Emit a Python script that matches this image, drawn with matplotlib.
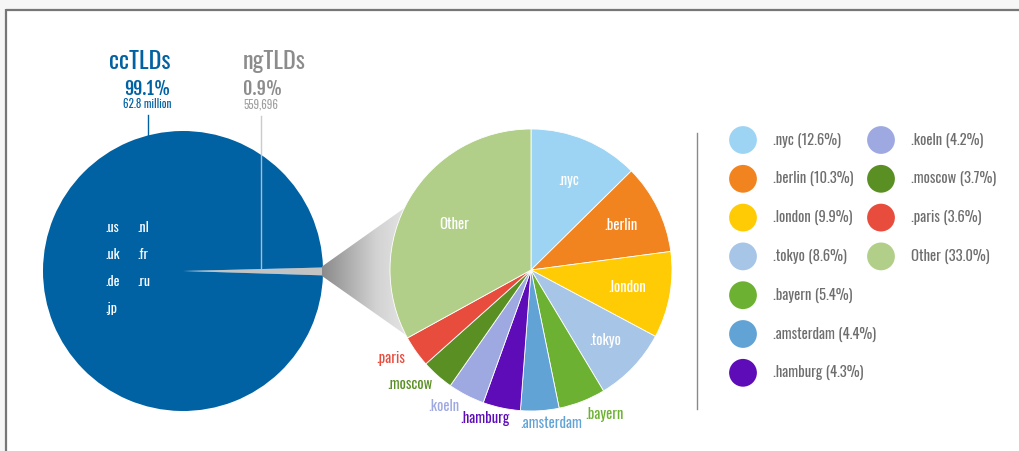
import matplotlib
matplotlib.use("Agg")
import matplotlib.pyplot as plt
from matplotlib.patches import Polygon, Rectangle
from matplotlib.colors import LinearSegmentedColormap
import numpy as np

plt.rcParams['font.family'] = ['Oswald', 'DejaVu Sans']
BOLD_FONT = ['Fjalla One', 'Oswald', 'DejaVu Sans']

# overall split
group_names = ["ngTLDs", "ccTLDs"]
group_share = [0.9, 99.1]
group_count = ["559,696", "62.8 million"]
cc_examples = [".us", ".uk", ".de", ".jp", ".nl", ".fr", ".ru"]

# ngTLD breakdown (clockwise from top)
ng_names = [".nyc", ".berlin", ".london", ".tokyo", ".bayern", ".amsterdam",
            ".hamburg", ".koeln", ".moscow", ".paris", "Other"]
ng_share = [12.6, 10.3, 9.9, 8.6, 5.4, 4.4, 4.3, 4.2, 3.7, 3.6, 33.0]
ng_colors = ["#9dd4f3", "#f2841f", "#ffcb05", "#a6c5e7", "#6cb132", "#62a3d6",
             "#5d0cb7", "#9ea9e1", "#5a8f23", "#e84c3d", "#b1cf89"]

W, H = 1019, 451
BLUE = "#0061a3"
GREY_TXT = "#8c8c8c"


def fy(py):
    # pixel row (from top) -> data y
    return H - py


fig = plt.figure(figsize=(W / 100, H / 100), dpi=100, facecolor="#f6f6f6")
ax = fig.add_axes([0, 0, 1, 1])
ax.set_facecolor("#f6f6f6")

# white panel with grey frame on top/left
ax.add_patch(Rectangle((7, 0), W, fy(10), facecolor="white", edgecolor="none", zorder=0))
ax.plot([6, W], [fy(9.5), fy(9.5)], color="#767676", lw=1.6, zorder=1, solid_capstyle="butt")
ax.plot([6.5, 6.5], [0, fy(9)], color="#767676", lw=1.6, zorder=1, solid_capstyle="butt")

# left pie: ccTLDs vs ngTLDs
lc = (183, fy(271))
ax.pie(group_share, colors=["#c3c3c3", BLUE], startangle=-1.8, counterclock=True,
       center=lc, radius=140, wedgeprops=dict(linewidth=0), frame=True)

# grey gradient connector
rc = (531, fy(270))
conn = Polygon([(322, fy(266.5)), (420, fy(197)), rc, (420, fy(345)), (322, fy(276))],
               closed=True, facecolor="none", edgecolor="none")
ax.add_patch(conn)
grad_cmap = LinearSegmentedColormap.from_list("g", ["#8a8a8a", "#d2d2d2", "#f2f2f2"])
img = ax.imshow(np.linspace(0, 1, 256).reshape(1, -1), cmap=grad_cmap, aspect="auto",
                extent=(322, 430, fy(350), fy(190)), zorder=1.5, interpolation="bilinear")
img.set_clip_path(conn)

# right pie: ngTLD breakdown
wedges, _ = ax.pie(ng_share, colors=ng_colors, startangle=90, counterclock=False,
                   center=rc, radius=141, frame=True,
                   wedgeprops=dict(linewidth=0.6, edgecolor="white"))
for w in wedges:
    w.set_zorder(3)

inner = {".nyc": 0.69, ".berlin": 0.71, ".london": 0.69, ".tokyo": 0.73, "Other": 0.63}
for w, name in zip(wedges, ng_names):
    if name in inner:
        a = np.deg2rad((w.theta1 + w.theta2) / 2)
        d = inner[name] * 141
        ax.text(rc[0] + d * np.cos(a), rc[1] + d * np.sin(a), name, color="white",
                fontsize=10.5, ha="center", va="center", zorder=5)

outer = {".paris": (391, 363), ".moscow": (410, 389), ".koeln": (444, 411),
         ".hamburg": (485, 423), ".amsterdam": (551, 428), ".bayern": (604, 419)}
for name, col in zip(ng_names, ng_colors):
    if name in outer:
        x, y = outer[name]
        ax.text(x, fy(y), name, color=col, fontsize=10.5, ha="center", va="baseline", zorder=5)

# ccTLD examples inside the big pie
for i, lab in enumerate(cc_examples):
    col, row = divmod(i, 4)
    ax.text(105 + col * 32, fy(232 + row * 27), lab, color="white", fontsize=10,
            ha="left", va="baseline", zorder=5)

# headers
ax.text(171, fy(69), group_names[1], color=BLUE, fontsize=17.5, ha="right", va="baseline")
ax.text(171, fy(95), f"{group_share[1]}%", color=BLUE, fontsize=13, family=BOLD_FONT,
        ha="right", va="baseline")
ax.text(171, fy(108), group_count[1], color=BLUE, fontsize=8, ha="right", va="baseline")
ax.text(243, fy(69), group_names[0], color=GREY_TXT, fontsize=17.5, ha="left", va="baseline")
ax.text(243, fy(95), f"{group_share[0]}%", color=GREY_TXT, fontsize=13, family=BOLD_FONT,
        ha="left", va="baseline")
ax.text(243, fy(108), group_count[0], color="#a0a0a0", fontsize=8, ha="left", va="baseline")

ax.plot([148, 148], [fy(115), fy(136)], color=BLUE, lw=1, zorder=2)
ax.plot([261, 261], [fy(116), fy(268)], color="#c6c6c6", lw=1, zorder=2, alpha=0.9)

# separator and legend
ax.plot([697, 697], [fy(133), fy(409)], color="#8a8a8a", lw=1)
for i, (name, share, col) in enumerate(zip(ng_names, ng_share, ng_colors)):
    c, r = (0, i) if i < 7 else (1, i - 7)
    x = 743 + c * 138
    y = fy(140 + r * 38.8)
    ax.scatter([x], [y], s=400, color=col, edgecolors="none", zorder=4)
    ax.text(x + 30, y, f"{name} ({share:.1f}%)", color="#6e6e6e", fontsize=10.5,
            ha="left", va="center")

ax.set_xlim(0, W)
ax.set_ylim(0, H)
ax.set_aspect("equal")
ax.axis("off")

fig.savefig("out.png", dpi=100, facecolor=fig.get_facecolor())
